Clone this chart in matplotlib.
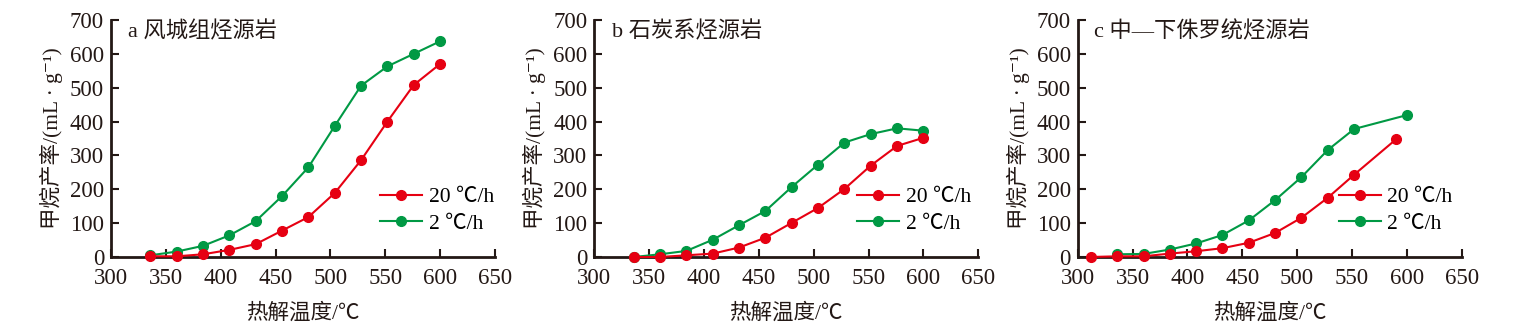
import matplotlib

matplotlib.use("Agg")

import matplotlib.pyplot as plt

plt.rcParams["font.family"] = ["Liberation Serif", "Noto Sans CJK SC", "DejaVu Serif"]

RED = "#e60012"
GREEN = "#009944"
INK = "#231815"

temps = [336, 360, 384, 408, 432, 456, 480, 504, 528, 552, 576, 600]

a_red = [2, 2, 8, 21, 38, 78, 118, 189, 286, 400, 508, 570]
a_green = [5, 16, 33, 64, 106, 180, 265, 387, 506, 563, 600, 637]

b_red = [0, 0, 5, 10, 28, 57, 101, 145, 201, 270, 328, 352]
b_green = [0, 8, 18, 51, 94, 136, 207, 273, 338, 363, 380, 373]

c_red_x = [312, 336, 360, 384, 408, 432, 456, 480, 504, 528, 552, 590]
c_red = [0, 2, 2, 10, 17, 26, 42, 71, 116, 175, 243, 347]
c_green_x = [336, 360, 384, 408, 432, 456, 480, 504, 528, 552, 600]
c_green = [8, 9, 22, 40, 65, 108, 168, 236, 316, 378, 419]

titles = ["a 风城组烃源岩", "b 石炭系烃源岩", "c 中—下侏罗统烃源岩"]
labels = ["20 ℃/h", "2 ℃/h"]
x_label = "热解温度/℃"
y_label = "甲烷产率/(mL · g⁻¹)"

panels = [
    (temps, a_red, temps, a_green),
    (temps, b_red, temps, b_green),
    (c_red_x, c_red, c_green_x, c_green),
]
lefts = [0.073, 0.391, 0.709]
legend_x = [0.702, 0.685, 0.680]
title_x = [0.044, 0.047, 0.042]

fig = plt.figure(figsize=(15.2, 3.28), dpi=100)

for i, (rx, ry, gx, gy) in enumerate(panels):
    ax = fig.add_axes([lefts[i], 0.2165, 0.2526, 0.7226])
    line_r, = ax.plot(rx, ry, color=RED, marker="o", markersize=7, linewidth=1.5,
                      clip_on=False, zorder=4, label=labels[0])
    line_g, = ax.plot(gx, gy, color=GREEN, marker="o", markersize=7, linewidth=1.5,
                      clip_on=False, zorder=3, label=labels[1])

    ax.set_xlim(300, 650)
    ax.set_ylim(0, 700)
    ax.set_xticks(range(300, 651, 50))
    ax.set_yticks(range(0, 701, 100))
    for side in ["top", "right"]:
        ax.spines[side].set_visible(False)
    for side in ["left", "bottom"]:
        ax.spines[side].set_linewidth(2)
        ax.spines[side].set_color(INK)
    ax.tick_params(direction="in", length=6, width=1.5, labelsize=16.5, colors=INK)
    ax.tick_params(axis="x", pad=8)
    ax.tick_params(axis="y", pad=5)

    ax.text(title_x[i], 0.95, titles[i], transform=ax.transAxes, fontsize=16,
            va="center", ha="left", color=INK)
    ax.set_xlabel(x_label, fontsize=15.5, color=INK)
    ax.xaxis.set_label_coords(0.5, -0.195)
    ax.set_ylabel(y_label, fontsize=15.5, color=INK)
    ax.yaxis.set_label_coords(-0.125, 0.5)

    ax.legend(handles=[line_r, line_g], loc="center left",
              bbox_to_anchor=(legend_x[i], 0.196), frameon=False, fontsize=15.5,
              borderpad=0, borderaxespad=0, handlelength=1.95,
              handletextpad=0.3, labelspacing=0.3)

fig.savefig("out.png")
